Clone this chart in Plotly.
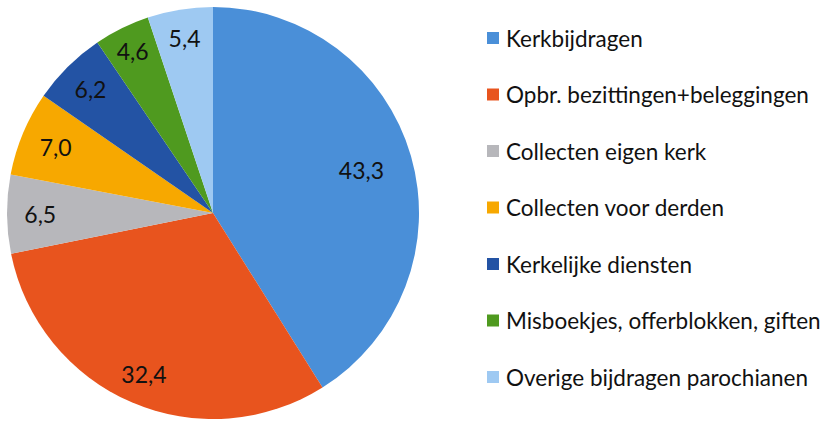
import plotly.graph_objects as go

labels = ["Kerkbijdragen", "Opbr. bezittingen+beleggingen", "Collecten eigen kerk",
          "Collecten voor derden", "Kerkelijke diensten",
          "Misboekjes, offerblokken, giften", "Overige bijdragen parochianen"]
values = [43.3, 32.4, 6.5, 7.0, 6.2, 4.6, 5.4]
colors = ["#4A8FD8", "#E8541E", "#B7B7BB", "#F7A800", "#2353A4", "#4F9A1F", "#9EC9F2"]
value_text = [f"{v:.1f}".replace(".", ",") for v in values]

W, H = 829, 422
FONT = "Lato, 'Open Sans', sans-serif"
dom = dict(x=[7 / W, 419 / W], y=[3 / H, 415 / H])

fig = go.Figure()
# filled pie
fig.add_trace(go.Pie(
    labels=labels, values=values, sort=False, direction="clockwise", rotation=0,
    marker=dict(colors=colors, line=dict(width=0)),
    textinfo="none", domain=dom, showlegend=False, hoverinfo="label+value",
))

# transparent rings carrying the value labels (label radius differs per slice)
def label_ring(hole, show):
    fig.add_trace(go.Pie(
        labels=labels, values=values, sort=False, direction="clockwise", rotation=0,
        hole=hole,
        marker=dict(colors=["rgba(0,0,0,0)"] * len(values), line=dict(width=0)),
        text=[t if s else "" for t, s in zip(value_text, show)], textinfo="text",
        textposition="inside", insidetextorientation="horizontal",
        textfont=dict(family=FONT, size=23, color="#111111"),
        domain=dom, showlegend=False, hoverinfo="skip",
    ))

label_ring(0.5, [i != 1 for i in range(len(values))])
label_ring(0.7, [i == 1 for i in range(len(values))])

# legend drawn from the label/color lists
y0, step = 38, 56.5
for i, (lab, col) in enumerate(zip(labels, colors)):
    yc = y0 + i * step
    fig.add_shape(type="rect", xref="paper", yref="paper",
                  x0=487 / W, x1=499 / W, y0=1 - (yc + 6) / H, y1=1 - (yc - 6) / H,
                  fillcolor=col, line=dict(width=0))
    fig.add_annotation(text=lab, xref="paper", yref="paper", x=504 / W, y=1 - yc / H,
                       xanchor="left", yanchor="middle", showarrow=False,
                       font=dict(family=FONT, size=22.5, color="#111111"))

fig.update_layout(width=W, height=H, margin=dict(l=0, r=0, t=0, b=0),
                  paper_bgcolor="white", plot_bgcolor="white", separators=",.")
fig.write_html("out.html", config={"displayModeBar": False},
               post_script="document.body.style.margin='0';")
